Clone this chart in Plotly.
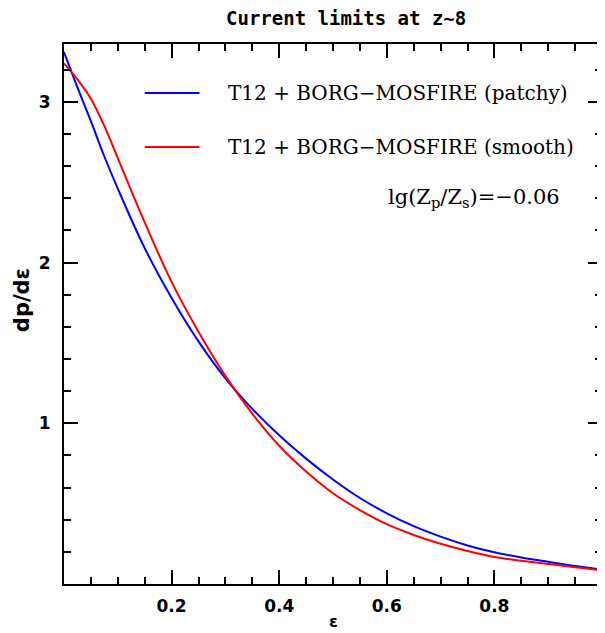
import plotly.graph_objects as go

# ---- data ----
eps = [0.0, 0.025, 0.05, 0.075, 0.1, 0.15, 0.2, 0.25, 0.3, 0.35, 0.4, 0.45, 0.5,
       0.55, 0.6, 0.65, 0.7, 0.75, 0.8, 0.85, 0.9, 0.95, 1.0]
patchy = [3.31, 3.09, 2.88, 2.66, 2.46, 2.09, 1.78, 1.51, 1.28, 1.09, 0.925, 0.78, 0.65,
          0.535, 0.44, 0.36, 0.295, 0.24, 0.197, 0.165, 0.138, 0.112, 0.09]
smooth = [3.24, 3.14, 3.02, 2.85, 2.65, 2.25, 1.88, 1.57, 1.295, 1.06, 0.86, 0.70, 0.565,
          0.46, 0.372, 0.305, 0.25, 0.205, 0.168, 0.145, 0.125, 0.104, 0.085]
series_names = ["T12 + BORG\u2212MOSFIRE (patchy)", "T12 + BORG\u2212MOSFIRE (smooth)"]
series_colors = ["#0000ff", "#ff0000"]
x_tickvals = [0.2, 0.4, 0.6, 0.8]
x_ticktext = ["0.2", "0.4", "0.6", "0.8"]
y_tickvals = [1, 2, 3]
y_ticktext = ["1", "2", "3"]
title_text = "Current limits at z~8"
ratio_text = "lg(Z<sub>p</sub>/Z<sub>s</sub>)=\u22120.06"

fig = go.Figure()
for ys, name, col in zip([patchy, smooth], series_names, series_colors):
    fig.add_trace(go.Scatter(x=eps, y=ys, mode="lines", name=name,
                             line=dict(color=col, width=2, shape="spline", smoothing=1.0),
                             showlegend=False))

# the page body has an 8px margin, so the figure is shrunk by 8px to fit the window
OFF = 8
W, H = 605 - OFF, 633 - OFF
L, R, T, B = 64 - OFF, 1, 44 - OFF, 49
pw, ph = W - L - R, H - T - B

def px_x(p):
    return (p - OFF - L) / pw

def px_y(p):
    return (H + OFF - B - p) / ph

axis_common = dict(showline=True, linewidth=2, linecolor="black", mirror="ticks",
                   ticks="inside", tickwidth=2, tickcolor="black", ticklen=14,
                   showgrid=False, zeroline=False,
                   tickfont=dict(family="DejaVu Sans", size=17, color="black", weight="bold"))

fig.update_layout(
    width=W, height=H,
    margin=dict(l=L, r=R, t=T, b=B),
    paper_bgcolor="white", plot_bgcolor="white",
    xaxis=dict(range=[0, 1.0], tickmode="array", tickvals=x_tickvals, ticktext=x_ticktext,
               minor=dict(dtick=0.05, tick0=0, ticks="inside", ticklen=7, tickwidth=2,
                          tickcolor="black", showgrid=False),
               ticklabelstandoff=6, **axis_common),
    yaxis=dict(range=[0, 3.36], tickmode="array", tickvals=y_tickvals, ticktext=y_ticktext,
               minor=dict(dtick=0.2, tick0=0, ticks="inside", ticklen=7, tickwidth=2,
                          tickcolor="black", showgrid=False),
               ticklabelstandoff=8, **axis_common),
    showlegend=False,
)

# title
fig.add_annotation(text=title_text, xref="paper", yref="paper", x=px_x(347), y=px_y(18),
                   showarrow=False, xanchor="center", yanchor="middle",
                   font=dict(family="DejaVu Sans Mono", size=19, color="black", weight="bold"))

# axis titles
fig.add_annotation(text="dp/d\u03b5", xref="paper", yref="paper", x=px_x(22), y=px_y(300),
                   textangle=-90, showarrow=False, xanchor="center", yanchor="middle",
                   font=dict(family="DejaVu Sans", size=21, color="black", weight="bold"))
fig.add_annotation(text="\u03b5", xref="paper", yref="paper", x=px_x(334), y=px_y(621),
                   showarrow=False, xanchor="center", yanchor="middle",
                   font=dict(family="DejaVu Sans", size=16, color="black", weight="bold"))

# legend (drawn inside the frame)
for i, (name, col) in enumerate(zip(series_names, series_colors)):
    yy = px_y(93 + 54 * i)
    fig.add_shape(type="line", xref="paper", yref="paper", x0=px_x(145), x1=px_x(200),
                  y0=yy, y1=yy, line=dict(color=col, width=2))
    fig.add_annotation(text=name, xref="paper", yref="paper", x=px_x(227), y=yy,
                       showarrow=False, xanchor="left", yanchor="middle",
                       font=dict(family="DejaVu Serif", size=20, color="black"))

fig.add_annotation(text=ratio_text, xref="paper", yref="paper", x=px_x(387), y=px_y(198),
                   showarrow=False, xanchor="left", yanchor="middle",
                   font=dict(family="DejaVu Serif", size=21, color="black"))

fig.write_html("out.html")
